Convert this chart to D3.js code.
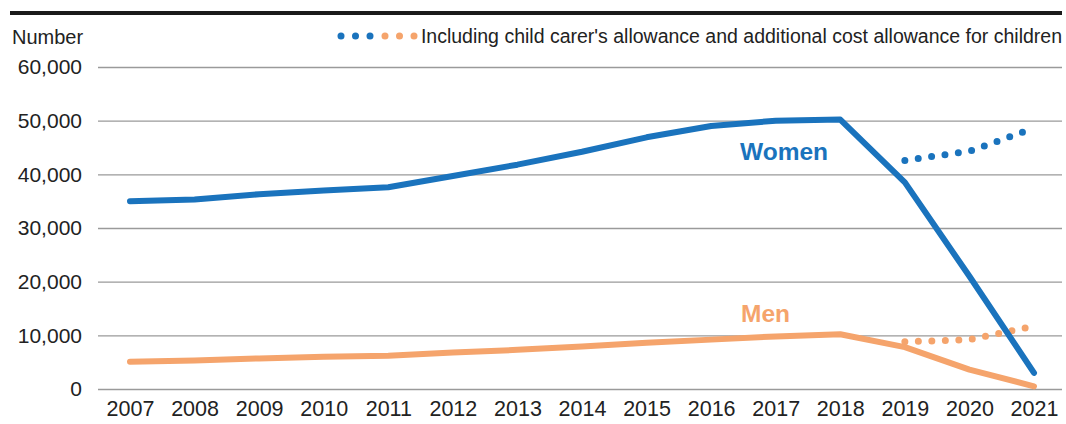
<!DOCTYPE html>
<html lang="en">
<head>
<meta charset="UTF-8">
<script src="https://d3js.org/d3.v7.min.js"></script>
<style>
  body { margin: 0; background: #fff; }
  svg { display: block; font-family: "Liberation Sans", Arial, sans-serif; }
</style>
</head>
<body>
<svg width="1066" height="424"></svg>
<script>
// data
const years = [2007, 2008, 2009, 2010, 2011, 2012, 2013, 2014, 2015, 2016, 2017, 2018, 2019, 2020, 2021];
const women = [35000, 35300, 36300, 37000, 37600, 39700, 41800, 44200, 46900, 49000, 50000, 50200, 38500, 21000, 3000];
const men = [5100, 5300, 5700, 6000, 6200, 6800, 7300, 7900, 8600, 9200, 9800, 10200, 7800, 3600, 500];
const inclYears = [2019, 2020, 2021];
const womenIncl = [42600, 44300, 48600];
const menIncl = [8800, 9200, 11700];
const yTicks = [0, 10000, 20000, 30000, 40000, 50000, 60000];

const blue = '#1a73bd';
const orange = '#f5a46c';
const font = '"Liberation Sans", Arial, sans-serif';

const svg = d3.select('svg');
const margin = { left: 98, right: 1062, top: 67, bottom: 389 };

const x = d3.scaleLinear().domain([2007, 2021]).range([130, 1034]);
const y = d3.scaleLinear().domain([0, 60000]).range([margin.bottom, margin.top]);

// top rule
svg.append('rect').attr('x', 10).attr('y', 11).attr('width', 1052).attr('height', 4).attr('fill', '#1a1a1a');

// gridlines + value labels
svg.append('g')
  .attr('transform', `translate(${margin.left},0)`)
  .call(d3.axisLeft(y).tickValues(yTicks).tickSize(-(margin.right - margin.left)).tickFormat(d3.format(',')))
  .call(g => g.select('.domain').remove())
  .call(g => g.selectAll('line').attr('stroke', '#9a9a9a').attr('stroke-width', 1.3))
  .call(g => g.selectAll('text').attr('x', -16).attr('text-anchor', 'end').attr('font-size', 21)
    .attr('fill', '#222').attr('font-family', font));

// year labels
svg.append('g')
  .attr('transform', `translate(0,${margin.bottom})`)
  .call(d3.axisBottom(x).tickValues(years).tickSize(0).tickPadding(12).tickFormat(d3.format('d')))
  .call(g => g.select('.domain').remove())
  .call(g => g.selectAll('text').attr('font-size', 21.5).attr('fill', '#222').attr('font-family', font));

svg.append('text').attr('x', 12).attr('y', 44).attr('font-size', 20).attr('fill', '#222').text('Number');

const line = d3.line().x(d => x(d[0])).y(d => y(d[1]));

function solid(vals, color) {
  svg.append('path').datum(years.map((yr, i) => [yr, vals[i]]))
    .attr('d', line).attr('fill', 'none').attr('stroke', color)
    .attr('stroke-width', 6).attr('stroke-linejoin', 'round').attr('stroke-linecap', 'round');
}
function dotted(vals, color) {
  svg.append('path').datum(inclYears.map((yr, i) => [yr, vals[i]]))
    .attr('d', line).attr('fill', 'none').attr('stroke', color)
    .attr('stroke-width', 7).attr('stroke-linecap', 'round').attr('stroke-dasharray', '0,13.5');
}

dotted(menIncl, orange);
solid(men, orange);
dotted(womenIncl, blue);
solid(women, blue);

svg.append('text').attr('x', 740).attr('y', 160).attr('font-size', 24.5).attr('font-weight', 'bold')
  .attr('fill', blue).text('Women');
svg.append('text').attr('x', 741).attr('y', 322).attr('font-size', 24.5).attr('font-weight', 'bold')
  .attr('fill', orange).text('Men');

// legend
const legend = svg.append('g');
[341, 355.5, 370].forEach(cx => legend.append('circle').attr('cx', cx).attr('cy', 36).attr('r', 3.5).attr('fill', blue));
[385, 399.5, 414].forEach(cx => legend.append('circle').attr('cx', cx).attr('cy', 36).attr('r', 3.5).attr('fill', orange));
legend.append('text').attr('x', 1062).attr('y', 43).attr('text-anchor', 'end').attr('font-size', 19.5)
  .attr('fill', '#222').text("Including child carer's allowance and additional cost allowance for children");
</script>
</body>
</html>
